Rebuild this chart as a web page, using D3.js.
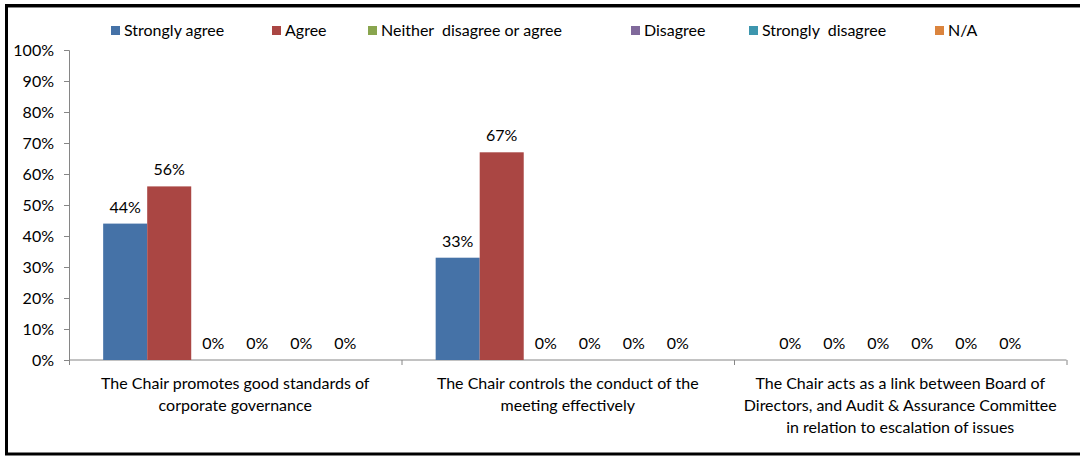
<!DOCTYPE html>
<html><head><meta charset="utf-8">
<script src="https://cdn.jsdelivr.net/npm/d3@7"></script>
<style>body{margin:0;background:#fff;} svg{display:block;} text{font-family:Lato, "Open Sans", sans-serif;fill:#000;}</style>
</head><body><svg id="c" width="1080" height="457"></svg>
<script>
const categories = [
  ["The Chair promotes good standards of", "corporate governance"],
  ["The Chair controls the conduct of the", "meeting effectively"],
  ["The Chair acts as a link between Board of", "Directors, and Audit & Assurance Committee", "in relation to escalation of issues"]
];
const seriesNames = ["Strongly agree", "Agree", "Neither  disagree or agree", "Disagree", "Strongly  disagree", "N/A"];
const seriesColors = ["#4572A7", "#AA4643", "#89A54E", "#80699B", "#3D96AE", "#DB843D"];
const stronglyAgree = [44, 33, 0];
const agree = [56, 67, 0];
const neither = [0, 0, 0];
const disagree = [0, 0, 0];
const stronglyDisagree = [0, 0, 0];
const na = [0, 0, 0];
const seriesValues = [stronglyAgree, agree, neither, disagree, stronglyDisagree, na];
const yTicks = [0,10,20,30,40,50,60,70,80,90,100];

const svg = d3.select("#c");
// border
svg.append("rect").attr("x",6.5).attr("y",5.5).attr("width",1090).attr("height",448.5)
  .attr("fill","none").attr("stroke","#000").attr("stroke-width",3);
svg.append("line").attr("x1",8).attr("x2",1080).attr("y1",7.5).attr("y2",7.5).attr("stroke","#888").attr("stroke-width",1);

const pLeft = 69, pRight = 1066.5, pTop = 50, pBottom = 360;
const x0 = d3.scaleBand().domain(d3.range(categories.length)).range([pLeft, pRight]).padding(0);
const x1 = d3.scaleBand().domain(d3.range(seriesNames.length)).range([0, x0.bandwidth()]).paddingInner(0).paddingOuter(0.776);
const y = d3.scaleLinear().domain([0,100]).range([pBottom, pTop]);

// y axis
const yAxis = svg.append("g").attr("transform",`translate(${pLeft},0)`)
  .call(d3.axisLeft(y).tickValues(yTicks).tickFormat(d=>d+"%").tickSize(5).tickPadding(5));
yAxis.select(".domain").attr("stroke","#868686");
yAxis.selectAll(".tick line").attr("stroke","#868686");
yAxis.selectAll("text").style("font-family","Lato, sans-serif").style("font-size","16px").attr("fill","#000").attr("dy","0.35em").attr("x",-15);

// x axis
const xAxisG = svg.append("g").attr("transform",`translate(0,${pBottom})`);
xAxisG.append("line").attr("x1",pLeft).attr("x2",pRight).attr("stroke","#868686");
const bounds = d3.range(categories.length+1).map(i => i<categories.length ? x0(i) : pRight);
xAxisG.selectAll(".xt").data(bounds).enter().append("line")
  .attr("x1",d=>d+0.5).attr("x2",d=>d+0.5).attr("y1",0).attr("y2",5).attr("stroke","#868686");

// bars
const groups = svg.selectAll(".grp").data(categories).enter().append("g")
  .attr("transform",(d,i)=>`translate(${x0(i)},0)`);
groups.each(function(cat, ci){
  const g = d3.select(this);
  seriesValues.forEach((vals, si) => {
    const v = vals[ci];
    if (v > 0) {
      g.append("rect").attr("x", x1(si)).attr("width", x1.bandwidth())
        .attr("y", y(v)).attr("height", pBottom - y(v)).attr("fill", seriesColors[si]);
    }
    g.append("text").attr("x", x1(si) + x1.bandwidth()/2).attr("y", y(v) - 11)
      .attr("text-anchor","middle").style("font-size","16px").text(v + "%");
  });
  const t = g.append("text").attr("text-anchor","middle").style("font-size","16px");
  cat.forEach((line, li) => {
    t.append("tspan").attr("x", x0.bandwidth()/2).attr("y", pBottom + 29 + li*22).text(line);
  });
});

// legend
const legendX = [111, 272, 368, 631, 749, 935];
const leg = svg.selectAll(".leg").data(seriesNames).enter().append("g")
  .attr("transform",(d,i)=>`translate(${legendX[i]},26)`);
leg.append("rect").attr("width",9).attr("height",9).attr("fill",(d,i)=>seriesColors[i]);
leg.append("text").attr("x",13).attr("y",10).style("font-size","16px").attr("xml:space","preserve").style("white-space","pre").text(d=>d);
</script></body></html>
